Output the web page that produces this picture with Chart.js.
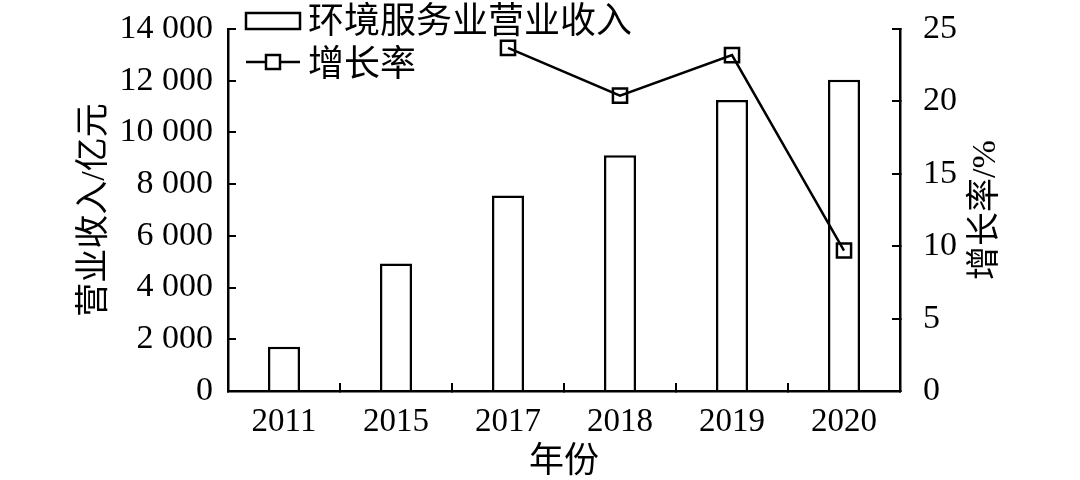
<!DOCTYPE html>
<html>
<head>
<meta charset="utf-8">
<script src="https://cdn.jsdelivr.net/npm/chart.js@4/dist/chart.umd.min.js"></script>
<style>
  html, body { margin: 0; padding: 0; background: #fff; }
  #wrap { width: 1080px; height: 480px; }
</style>
</head>
<body>
<div id="wrap"><canvas id="chart" width="1080" height="480"></canvas></div>
<script>
// data
const years = ['2011', '2015', '2017', '2018', '2019', '2020'];
const revenue = [1715, 4930, 7560, 9120, 11250, 12040];
const growth = [null, null, 23.7, 20.4, 23.2, 9.7];
const revenueLabel = '环境服务业营业收入';
const growthLabel = '增长率';

const serif = "'Liberation Serif', 'Noto Sans CJK SC', serif";
const cjk = "'Noto Sans CJK SC', 'Liberation Serif', sans-serif";

// thousands with a space, like "14 000"
function spaced(v) {
  return String(v).replace(/\B(?=(\d{3})+(?!\d))/g, ' ');
}

// keep the plot box where it is, labels may hang out
function noPad(s) {
  s.paddingTop = 0;
  s.paddingBottom = 0;
  s.paddingLeft = 0;
  s.paddingRight = 0;
}

// legend inside the plot + right axis title reading bottom to top
const extras = {
  id: 'extras',
  afterDraw(chart) {
    const { ctx, chartArea } = chart;
    const x0 = chartArea.left + 18;
    ctx.save();
    ctx.strokeStyle = '#000';
    ctx.lineWidth = 2.5;

    // bar item
    ctx.fillStyle = '#fff';
    ctx.fillRect(x0, 13, 54, 16);
    ctx.strokeRect(x0, 13, 54, 16);
    // line item
    ctx.beginPath();
    ctx.moveTo(x0, 62);
    ctx.lineTo(x0 + 54, 62);
    ctx.stroke();
    ctx.fillRect(x0 + 20, 55, 14, 14);
    ctx.strokeRect(x0 + 20, 55, 14, 14);

    ctx.fillStyle = '#000';
    ctx.font = '36px ' + cjk;
    ctx.textAlign = 'left';
    ctx.textBaseline = 'middle';
    ctx.fillText(chart.data.datasets[0].label, x0 + 62, 19);
    ctx.fillText(chart.data.datasets[1].label, x0 + 62, 62);

    // right title
    ctx.translate(chartArea.right + 86, (chartArea.top + chartArea.bottom) / 2);
    ctx.rotate(-Math.PI / 2);
    ctx.textAlign = 'center';
    ctx.font = '34px ' + serif;
    ctx.fillText('增长率/%', 0, 0);
    ctx.restore();
  }
};

const ctx = document.getElementById('chart').getContext('2d');
new Chart(ctx, {
  type: 'bar',
  data: {
    labels: years,
    datasets: [
      {
        type: 'bar',
        label: revenueLabel,
        data: revenue,
        yAxisID: 'y',
        backgroundColor: '#fff',
        borderColor: '#000',
        borderWidth: 2.5,
        barPercentage: 0.286,
        categoryPercentage: 1,
        order: 2
      },
      {
        type: 'line',
        label: growthLabel,
        data: growth,
        yAxisID: 'y1',
        borderColor: '#000',
        borderWidth: 2.5,
        pointStyle: 'rect',
        pointRadius: 10,
        pointBorderWidth: 2.5,
        pointBorderColor: '#000',
        pointBackgroundColor: 'rgba(0,0,0,0)',
        tension: 0,
        order: 1
      }
    ]
  },
  options: {
    responsive: false,
    animation: false,
    events: [],
    layout: { padding: { top: 29, left: 0, right: 0, bottom: 0 } },
    plugins: {
      legend: { display: false },
      tooltip: { enabled: false }
    },
    scales: {
      x: {
        position: 'bottom',
        afterFit: s => { s.height = 89; noPad(s); },
        border: { display: true, color: '#000', width: 2.5 },
        grid: { drawOnChartArea: false, drawTicks: true, tickLength: -8, color: '#000', lineWidth: 2 },
        ticks: { color: '#000', font: { family: serif, size: 33 }, padding: 20 },
        title: { display: true, text: '年份', color: '#000', font: { family: cjk, size: 35 }, padding: { top: 0, bottom: 0 } }
      },
      y: {
        position: 'left',
        min: 0,
        max: 14000,
        afterFit: s => { s.width = 228; noPad(s); },
        border: { display: true, color: '#000', width: 2.5 },
        grid: { drawOnChartArea: false, drawTicks: true, tickLength: -8, color: '#000', lineWidth: 2 },
        ticks: { stepSize: 2000, color: '#000', font: { family: serif, size: 34 }, padding: 23, callback: v => spaced(v) },
        title: { display: true, text: '营业收入/亿元', color: '#000', font: { family: serif, size: 34 }, padding: { top: 75, bottom: 0 } }
      },
      y1: {
        position: 'right',
        min: 0,
        max: 25,
        afterFit: s => { s.width = 180; noPad(s); },
        border: { display: true, color: '#000', width: 2.5 },
        grid: { drawOnChartArea: false, drawTicks: true, tickLength: -8, color: '#000', lineWidth: 2 },
        ticks: { stepSize: 5, color: '#000', font: { family: serif, size: 34 }, padding: 31 }
      }
    }
  },
  plugins: [extras]
});
</script>
</body>
</html>
